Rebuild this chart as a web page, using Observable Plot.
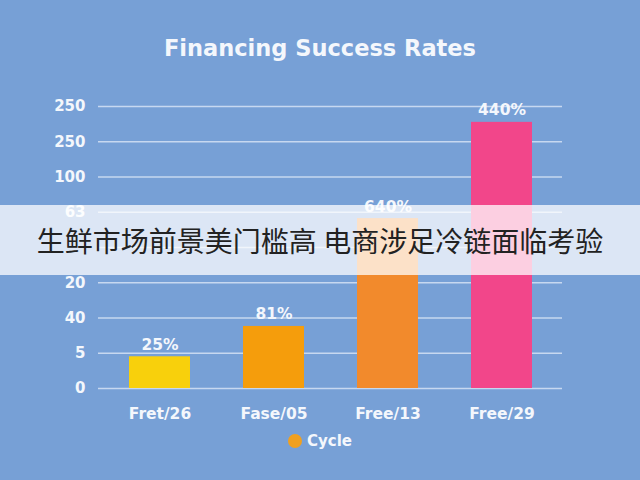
<!DOCTYPE html>
<html>
<head>
<meta charset="utf-8">
<script src="https://cdn.jsdelivr.net/npm/d3@7"></script>
<script src="https://cdn.jsdelivr.net/npm/@observablehq/plot@0.6"></script>
<style>
  html, body { margin: 0; padding: 0; }
  body { width: 640px; height: 480px; background: #77a0d6; overflow: hidden; font-family: "DejaVu Sans", sans-serif; }
  #wrap { position: relative; width: 640px; height: 480px; }
  #title { position: absolute; top: 37px; left: 0; width: 640px; text-align: center; color: #f4f7fc; font-size: 22.5px; line-height: 1; font-weight: 700; }
  #chart { position: absolute; top: 0; left: 0; }
  #legend { position: absolute; top: 431px; left: 0; width: 640px; display: flex; justify-content: center; align-items: center; color: #f4f7fc; font-size: 15px; line-height: 20px; font-weight: 700; gap: 5px; }
  #legend .dot { width: 14px; height: 14px; border-radius: 50%; background: #f0a020; }
  #banner { position: absolute; top: 205px; left: 0; width: 640px; height: 70px; background: rgba(255,255,255,0.74); display: flex; align-items: center; justify-content: center; font-family: "Noto Sans CJK SC", sans-serif; font-size: 28px; color: #222; }
</style>
</head>
<body>
<div id="wrap">
  <div id="title"></div>
  <div id="chart"></div>
  <div id="legend"><span class="dot"></span><span id="legendLabel"></span></div>
  <div id="banner"></div>
</div>
<script>
const titleText = "Financing Success Rates";
const bannerText = "生鲜市场前景美门槛高 电商涉足冷链面临考验";
const legendText = "Cycle";

const categories = ["Fret/26", "Fase/05", "Free/13", "Free/29"];
// bar heights measured in axis-tick positions (0 = bottom gridline)
const barHeights = [0.9, 1.76, 4.82, 7.55];
const barLabels = ["25%", "81%", "640%", "440%"];
const tickPositions = [0, 1, 2, 3, 4, 5, 6, 7, 8];
// label at position 4 is hidden behind the banner in the reference
const tickLabels = ["0", "5", "40", "20", "", "63", "100", "250", "250"];
const barColors = ["#f8d00c", "#f59d0c", "#f28a2c", "#f2468a"];

document.getElementById("title").textContent = titleText;
document.getElementById("banner").textContent = bannerText;
document.getElementById("legendLabel").textContent = legendText;

const data = categories.map((c, i) => ({cat: c, h: barHeights[i], label: barLabels[i]}));

const chart = Plot.plot({
  width: 640,
  height: 425,
  marginTop: 106,
  marginBottom: 37,
  marginLeft: 98,
  marginRight: 78,
  style: { background: "transparent", color: "#f4f7fc", fontFamily: "DejaVu Sans, sans-serif", fontSize: "15px", fontWeight: "700" },
  x: { domain: categories, paddingInner: 0.466, paddingOuter: 0.263, label: null },
  y: { domain: [0, 8], label: null },
  color: { domain: categories, range: barColors },
  marks: [
    Plot.gridY(tickPositions, { stroke: "#dbe6f6", strokeOpacity: 0.8, strokeWidth: 1.4 }),
    Plot.axisY(tickPositions, { tickSize: 0, tickPadding: 13, tickFormat: (d) => tickLabels[d], fontSize: 15, fontWeight: 700, fill: "#f4f7fc" }),
    Plot.axisX({ tickSize: 0, tickPadding: 19, fontSize: 15.5, fontWeight: 700, fill: "#f4f7fc" }),
    Plot.barY(data, { x: "cat", y: "h", fill: "cat" }),
    Plot.text(data, { x: "cat", y: "h", text: "label", dy: -12, fill: "#f4f7fc", fontSize: 15.5, fontWeight: 700 })
  ]
});
document.getElementById("chart").appendChild(chart);
</script>
</body>
</html>
